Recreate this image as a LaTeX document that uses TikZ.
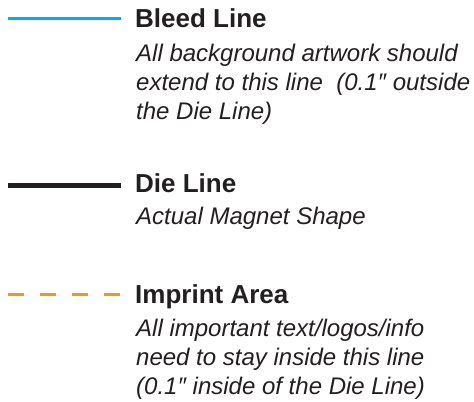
\documentclass[tikz,border=0pt]{standalone}
\usepackage{fontspec}
\setmainfont{Liberation Sans}
\definecolor{bleedc}{RGB}{0,174,239}
\definecolor{inkc}{RGB}{35,31,32}
\definecolor{imprintc}{RGB}{247,148,29}
\tikzset{
  legendtitle/.style={anchor=base west, inner sep=0pt, text=inkc,
    font=\fontsize{26bp}{30bp}\selectfont\bfseries},
  legenddesc/.style={anchor=base west, inner sep=0pt, text=inkc, align=left,
    font=\fontsize{24bp}{29bp}\selectfont\itshape},
  bleedline/.style={draw=bleedc, line width=3bp},
  dieline/.style={draw=inkc, line width=5.5bp},
  imprintline/.style={draw=imprintc, line width=3bp, dash pattern=on 16bp off 16bp},
}
\begin{document}
\begin{tikzpicture}[x=1bp,y=-1bp]
\useasboundingbox (0,0) rectangle (474,401);
% Bleed line (multi-line nodes are placed by the baseline of their last line)
\coordinate (b1) at (8,18.5);
\coordinate (b2) at (121,18.5);
\draw[bleedline] (b1) -- (b2);
\node[legendtitle] (bt) at (135,27.5) {Bleed Line};
\node[legenddesc] (bd) at (136,119.5) {All background artwork should\\extend to this line\ \ (0.1″ outside\\the Die Line)};
% Die line
\coordinate (d1) at (8,185.5);
\coordinate (d2) at (121,185.5);
\draw[dieline] (d1) -- (d2);
\node[legendtitle] (dt) at (135,192) {Die Line};
\node[legenddesc] (dd) at (136,224.5) {Actual Magnet Shape};
% Imprint area
\coordinate (i1) at (8,294);
\coordinate (i2) at (120,294);
\draw[imprintline] (i1) -- (i2);
\node[legendtitle] (it) at (135,303) {Imprint Area};
\node[legenddesc] (id) at (136,394) {All important text/logos/info\\need to stay inside this line\\(0.1″ inside of the Die Line)};
\end{tikzpicture}
\end{document}
